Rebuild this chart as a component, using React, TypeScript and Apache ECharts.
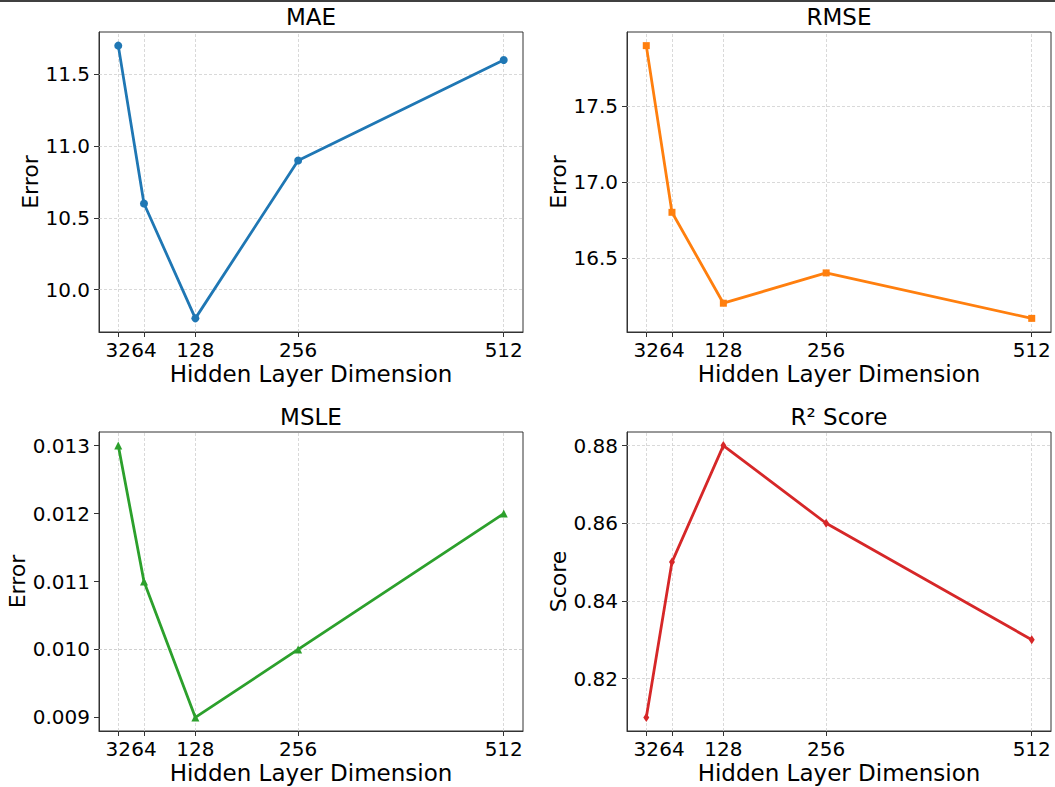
import React, { useEffect, useRef } from "react";
import * as echarts from "echarts";

const dims = [32, 64, 128, 256, 512];
const maeValues = [11.7, 10.6, 9.8, 10.9, 11.6];
const rmseValues = [17.9, 16.8, 16.2, 16.4, 16.1];
const msleValues = [0.013, 0.011, 0.009, 0.01, 0.012];
const r2Values = [0.81, 0.85, 0.88, 0.86, 0.83];

const maeTicks = [10.0, 10.5, 11.0, 11.5];
const rmseTicks = [16.5, 17.0, 17.5];
const msleTicks = [0.009, 0.01, 0.011, 0.012, 0.013];
const r2Ticks = [0.82, 0.84, 0.86, 0.88];

const titles = ["MAE", "RMSE", "MSLE", "R² Score"];
const yNames = ["Error", "Error", "Error", "Score"];
const xName = "Hidden Layer Dimension";

const FONT = "DejaVu Sans";

export default function App() {
  const ref = useRef<HTMLDivElement>(null);
  useEffect(() => {
    if (!ref.current) return;
    const chart = echarts.init(ref.current, null, { renderer: "svg" });

    const panels = [
      { vals: maeValues, ticks: maeTicks, dec: 1, color: "#1f77b4", symbol: "circle", size: 8 as any },
      { vals: rmseValues, ticks: rmseTicks, dec: 1, color: "#ff7f0e", symbol: "rect", size: 7 as any },
      { vals: msleValues, ticks: msleTicks, dec: 3, color: "#2ca02c", symbol: "triangle", size: 8 as any },
      { vals: r2Values, ticks: r2Ticks, dec: 2, color: "#d62728", symbol: "diamond", size: [6, 9] as any },
    ];
    const gridPos = [
      { left: 99, top: 32, width: 424, height: 300 },
      { left: 627, top: 32, width: 424, height: 300 },
      { left: 99, top: 432, width: 424, height: 299 },
      { left: 627, top: 432, width: 424, height: 299 },
    ];

    const xMin = dims[0] - (dims[dims.length - 1] - dims[0]) * 0.05;
    const xMax = dims[dims.length - 1] + (dims[dims.length - 1] - dims[0]) * 0.05;

    const axisColor = "#333";
    const grids: any[] = [];
    const xAxes: any[] = [];
    const yAxes: any[] = [];
    const series: any[] = [];
    const graphics: any[] = [];

    panels.forEach((p, i) => {
      const g = gridPos[i];
      grids.push({ ...g, show: true, borderColor: axisColor, borderWidth: 1, backgroundColor: "transparent", containLabel: false });
      const lo = Math.min(...p.vals);
      const hi = Math.max(...p.vals);
      const m = (hi - lo) * 0.05;
      xAxes.push({
        type: "value",
        gridIndex: i,
        min: xMin,
        max: xMax,
        name: xName,
        nameLocation: "middle",
        nameGap: 30,
        nameTextStyle: { fontSize: 23, color: "#000", fontFamily: FONT },
        axisLine: { show: true, lineStyle: { color: axisColor, width: 1 } },
        axisTick: { show: true, length: 5, lineStyle: { color: axisColor }, customValues: dims },
        axisLabel: {
          show: true,
          margin: 8,
          fontSize: 20,
          color: "#000",
          fontFamily: FONT,
          customValues: dims,
          formatter: (v: number) => String(v),
          hideOverlap: false,
        },
        splitLine: { show: false },
      });
      yAxes.push({
        type: "value",
        gridIndex: i,
        min: lo - m,
        max: hi + m,
        name: yNames[i],
        nameLocation: "middle",
        nameRotate: 90,
        nameGap: 57,
        nameTextStyle: { fontSize: 22, color: "#000", fontFamily: FONT },
        axisLine: { show: true, lineStyle: { color: axisColor, width: 1 } },
        axisTick: { show: true, length: 5, lineStyle: { color: axisColor }, customValues: p.ticks },
        axisLabel: {
          show: true,
          margin: 9,
          fontSize: 20,
          color: "#000",
          fontFamily: FONT,
          customValues: p.ticks,
          formatter: (v: number) => v.toFixed(p.dec),
        },
        splitLine: { show: false },
      });
      // grid lines
      series.push({
        type: "line",
        xAxisIndex: i,
        yAxisIndex: i,
        data: [],
        z: 1,
        silent: true,
        markLine: {
          z: 1,
          zlevel: 0,
          silent: true,
          symbol: ["none", "none"],
          label: { show: false },
          lineStyle: { type: [3, 2], color: "#cfcfcf", width: 0.8 },
          emphasis: { disabled: true },
          data: [
            ...p.ticks.map((t) => ({ yAxis: t })),
            ...dims.map((d) => ({ xAxis: d })),
          ],
        },
      });
      const pts = dims.map((d, k) => [d, p.vals[k]]);
      series.push({
        type: "line",
        xAxisIndex: i,
        yAxisIndex: i,
        z: 6,
        data: pts,
        lineStyle: { color: p.color, width: 2.8 },
        itemStyle: { color: p.color },
        symbol: "none",
        silent: true,
      });
      series.push({
        type: "scatter",
        xAxisIndex: i,
        yAxisIndex: i,
        z: 7,
        data: pts,
        symbol: p.symbol,
        symbolSize: p.size,
        itemStyle: { color: p.color, opacity: 1, borderWidth: 0 },
        silent: true,
      });
      graphics.push({
        type: "text",
        x: g.left + g.width / 2,
        y: g.top - 15,
        style: {
          text: titles[i],
          fontSize: 23,
          fontFamily: FONT,
          fill: "#000",
          align: "center",
          verticalAlign: "middle",
        },
      });
    });

    graphics.push({
      type: "line",
      shape: { x1: 0, y1: 1, x2: 1055, y2: 1 },
      style: { stroke: "#000", lineWidth: 1.5 },
    });

    chart.setOption({
      animation: false,
      backgroundColor: "#fff",
      grid: grids,
      xAxis: xAxes,
      yAxis: yAxes,
      series,
      graphic: graphics,
    });
    return () => chart.dispose();
  }, []);
  return (
    <div
      ref={ref}
      style={{ position: "fixed", left: 0, top: 0, width: 1055, height: 787 }}
    />
  );
}
